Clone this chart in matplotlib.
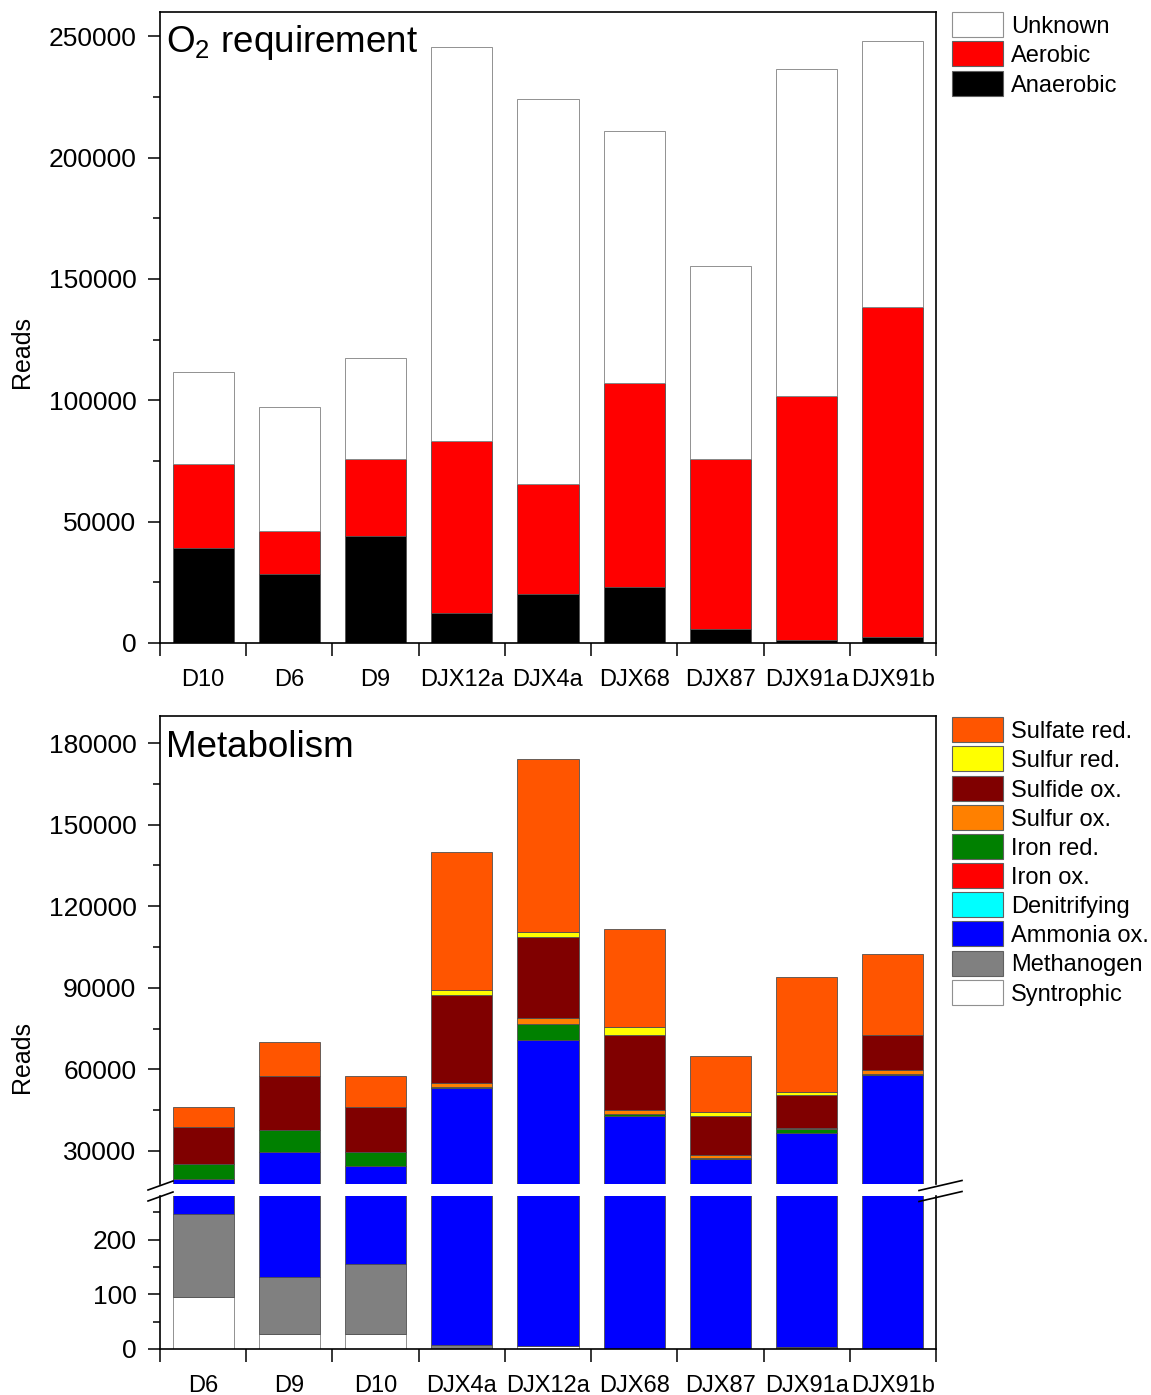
import matplotlib
matplotlib.use("Agg")
import matplotlib.pyplot as plt
import numpy as np
from matplotlib.patches import Rectangle
from matplotlib.lines import Line2D
from matplotlib.ticker import FixedLocator, MultipleLocator, NullFormatter

plt.rcParams['font.family'] = ['Liberation Sans', 'DejaVu Sans']
plt.rcParams['mathtext.fontset'] = 'custom'
plt.rcParams['mathtext.rm'] = 'Liberation Sans'
plt.rcParams['mathtext.it'] = 'Liberation Sans:italic'

# ---- O2 requirement (reads per site) ----
o2_sites = ['D10', 'D6', 'D9', 'DJX12a', 'DJX4a', 'DJX68', 'DJX87', 'DJX91a', 'DJX91b']
anaerobic = [39000, 28300, 44000, 12200, 20100, 23000, 5600, 1400, 2400]
aerobic = [34600, 17700, 31700, 71000, 45300, 84000, 70100, 100200, 136200]
unknown = [38200, 51400, 41600, 162400, 158800, 104100, 79500, 134900, 109400]

# ---- Metabolism (reads per site), stacked bottom to top ----
met_sites = ['D6', 'D9', 'D10', 'DJX4a', 'DJX12a', 'DJX68', 'DJX87', 'DJX91a', 'DJX91b']
syntrophic = [96, 27, 27, 0, 5, 0, 0, 0, 0]
methanogen = [151, 104, 128, 7, 0, 0, 0, 3, 0]
ammonia_ox = [19450, 29370, 24350, 53100, 70800, 42900, 26900, 36500, 58000]
denitrifying = [0, 0, 0, 0, 0, 0, 0, 0, 0]
iron_ox = [0, 0, 0, 0, 0, 0, 0, 0, 0]
iron_red = [5500, 8000, 5200, 400, 6000, 500, 600, 1500, 400]
sulfur_ox = [0, 0, 0, 1300, 2000, 1500, 900, 400, 1400]
sulfide_ox = [13500, 20200, 16600, 32600, 30050, 27650, 14600, 12300, 12900]
sulfur_red = [0, 0, 0, 1600, 1600, 3200, 1200, 860, 0]
sulfate_red = [7600, 12300, 11200, 51000, 63750, 35800, 20800, 42560, 29800]

o2_series = [('Anaerobic', anaerobic, '#000000'),
             ('Aerobic', aerobic, '#ff0000'),
             ('Unknown', unknown, '#ffffff')]

met_series = [('Syntrophic', syntrophic, '#ffffff'),
              ('Methanogen', methanogen, '#808080'),
              ('Ammonia ox.', ammonia_ox, '#0000ff'),
              ('Denitrifying', denitrifying, '#00ffff'),
              ('Iron ox.', iron_ox, '#ff0000'),
              ('Iron red.', iron_red, '#008000'),
              ('Sulfur ox.', sulfur_ox, '#ff8000'),
              ('Sulfide ox.', sulfide_ox, '#800000'),
              ('Sulfur red.', sulfur_red, '#ffff00'),
              ('Sulfate red.', sulfate_red, '#ff5500')]

W_PX, H_PX = 1151, 1395
fig = plt.figure(figsize=(W_PX / 100, H_PX / 100), dpi=100)


def fx(px):
    return px / W_PX


def fy(py):
    return 1 - py / H_PX


left, right = 160, 936
ax1 = fig.add_axes([fx(left), fy(643), fx(right - left), (643 - 12) / H_PX])
ax_hi = fig.add_axes([fx(left), fy(1184), fx(right - left), (1184 - 716) / H_PX])
ax_lo = fig.add_axes([fx(left), fy(1349), fx(right - left), (1349 - 1196) / H_PX])

BAR_W = 0.71
EDGE = '#505050'


def stacked(ax, series, n):
    x = np.arange(n)
    bottom = np.zeros(n)
    for name, vals, col in series:
        vals = np.asarray(vals, dtype=float)
        ax.bar(x, vals, BAR_W, bottom=bottom, color=col,
               edgecolor=('#808080' if col == '#ffffff' else EDGE), linewidth=0.6)
        bottom += vals


stacked(ax1, o2_series, len(o2_sites))
stacked(ax_hi, met_series, len(met_sites))
stacked(ax_lo, met_series, len(met_sites))

ax1.set_ylim(0, 260000)
ax1.yaxis.set_major_locator(MultipleLocator(50000))
ax1.yaxis.set_minor_locator(MultipleLocator(25000))

ax_hi.set_ylim(17800, 190000)
ax_hi.yaxis.set_major_locator(FixedLocator([30000, 60000, 90000, 120000, 150000, 180000]))
ax_hi.yaxis.set_minor_locator(FixedLocator([45000, 75000, 105000, 135000, 165000]))

ax_lo.set_ylim(0, 280)
ax_lo.yaxis.set_major_locator(MultipleLocator(100))
ax_lo.yaxis.set_minor_locator(MultipleLocator(50))

for ax, labels in ((ax1, o2_sites), (ax_hi, met_sites), (ax_lo, met_sites)):
    ax.set_xlim(-0.5, 8.5)
    ax.xaxis.set_major_locator(FixedLocator(np.arange(-0.5, 9.0, 1.0)))
    ax.xaxis.set_major_formatter(NullFormatter())
    ax.set_xticks(np.arange(len(labels)), labels, minor=True)
    ax.tick_params(axis='x', which='major', direction='out', length=9, width=1.1, top=False)
    ax.tick_params(axis='x', which='minor', length=0, pad=19, labelsize=17)
    ax.tick_params(axis='y', which='major', direction='out', length=9, width=1.1,
                   pad=8, labelsize=19, right=False)
    ax.tick_params(axis='y', which='minor', direction='out', length=5, width=1.1, right=False)
    for s in ax.spines.values():
        s.set_linewidth(1.2)

ax_hi.spines['bottom'].set_visible(False)
ax_hi.tick_params(axis='x', which='both', bottom=False, labelbottom=False)
ax_lo.spines['top'].set_visible(False)

# axis break marks
for (x0, x1) in ((148, 173), (919, 962)):
    dy = 10 if x1 - x0 > 30 else 9
    for yc in (1185.5, 1196.5):
        fig.add_artist(Line2D([fx(x0), fx(x1)], [fy(yc + dy / 2), fy(yc - dy / 2)],
                              transform=fig.transFigure, color='black', lw=1.2))

ax1.text(0.008, 0.982, r'O$_2$ requirement', transform=ax1.transAxes,
         ha='left', va='top', fontsize=26.5)
ax_hi.text(0.008, 0.971, 'Metabolism', transform=ax_hi.transAxes,
           ha='left', va='top', fontsize=26.5)

fig.text(fx(22), fy(352), 'Reads', rotation=90, ha='center', va='center', fontsize=18)
fig.text(fx(22), fy(1057), 'Reads', rotation=90, ha='center', va='center', fontsize=18)


def legend(entries, top_px):
    for i, (name, col) in enumerate(entries):
        y0 = top_px + i * 29.15
        fig.add_artist(Rectangle((fx(952), fy(y0 + 25)), fx(51), 25 / H_PX,
                                 transform=fig.transFigure, facecolor=col,
                                 edgecolor=('#909090' if col == '#ffffff' else '#606060'),
                                 lw=0.8))
        fig.text(fx(1011), fy(y0 + 12.5), name, ha='left', va='center_baseline', fontsize=17)


legend([(n, c) for n, _, c in reversed(o2_series)], 12.3)
legend([(n, c) for n, _, c in reversed(met_series)], 717.3)

fig.savefig('out.png', dpi=100)
